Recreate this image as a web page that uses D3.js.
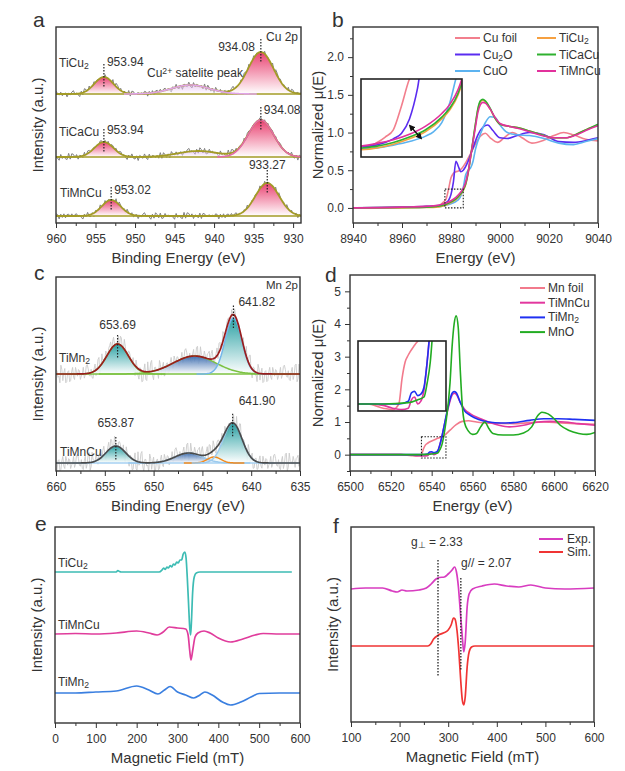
<!DOCTYPE html>
<html>
<head>
<meta charset="utf-8">
<script src="https://cdn.jsdelivr.net/npm/d3@7"></script>
<style>
  body { margin: 0; background: #fff; }
  svg text { font-family: "Liberation Sans", Arial, sans-serif; fill: #333; }
</style>
</head>
<body>
<svg width="625" height="771"></svg>
<script>
// ---------------- data ----------------

// residual shape of the measured XPS traces (read by eye, reused for every trace)
const noiseTrace = [0.2,-0.5,0.7,-0.1,0.4,-0.8,0.3,0.9,-0.3,0.1,-0.6,0.8,-0.2,0.5,-0.4,0.6,-0.9,0.0,0.7,-0.3,
  0.4,-0.7,0.2,-1.0,0.8,-0.1,0.3,-0.5,0.9,-0.6,0.1,0.5,-0.4,0.3,-0.2,0.8,-0.7,0.2,-0.3,0.6,
  -0.8,0.4,-0.1,0.3,-0.9,0.7,0.0,-0.4,0.9,-0.5,0.2,-0.6,0.5,-0.2,1.0,-0.3,0.6,-0.7,0.1,0.4,
  -0.5,0.8,-0.2,0.2,-0.8,0.6,-0.4,0.3,-0.1,0.7,-0.6,0.5,-0.9,0.2,0.4,-0.3,0.8,-0.5,0.1,-0.7,
  0.6,-0.2,0.9,-0.4,0.3,-0.6,0.5,-0.1,0.2,-0.8,0.7,-0.3,0.4,-0.5,0.1,0.6,-0.7,0.3,-0.2,0.8,-0.4];

// (a) Cu 2p XPS fitted peaks: centre (eV), height (a.u.), width sigma (eV)
const cuSamples = ['TiCu_2', 'TiCaCu', 'TiMnCu'];
const cuBase = [129, 66, 7];
const cuPeakCenters = [[953.94, 943.0, 934.08], [953.94, 942.0, 934.08], [953.02, 933.27]];
const cuPeakHeights = [[17, 9, 42], [15, 6, 37], [16, 33]];
const cuPeakWidths  = [[1.2, 2.4, 1.6], [1.2, 2.6, 1.6], [1.2, 1.5]];
const cuTicks = [960, 955, 950, 945, 940, 935, 930];

// (b) Cu K-edge XANES
const cuXasNames = ['Cu foil', 'Cu_2O', 'CuO', 'TiCu_2', 'TiCaCu', 'TiMnCu'];
const cuFoil = [[8940,0],[8960,0.01],[8970,0.02],[8975,0.03],[8976,0.05],[8977,0.08],[8978,0.12],[8979,0.25],[8980,0.4],
  [8981,0.46],[8982,0.48],[8983,0.49],[8984,0.51],[8986,0.6],[8988,0.72],[8990,0.85],[8992,0.95],[8994,0.99],[8996,0.93],
  [8999,0.87],[9002,0.94],[9005,1.0],[9009,0.93],[9013,0.86],[9018,0.9],[9022,0.96],[9026,1.0],[9030,0.97],[9035,0.91],[9040,0.89]];
const cu2O = [[8940,0],[8960,0.01],[8970,0.02],[8975,0.03],[8977,0.05],[8978,0.07],[8979,0.1],[8980,0.18],[8981,0.35],
  [8982,0.62],[8983,0.55],[8984,0.48],[8985,0.5],[8987,0.62],[8989,0.8],[8991,0.97],[8993,1.07],[8995,1.1],[8997,1.03],
  [9000,0.93],[9003,0.92],[9007,0.96],[9012,1.0],[9018,0.97],[9024,0.88],[9030,0.87],[9036,0.9],[9040,0.93]];
const cuO = [[8940,0],[8960,0.005],[8970,0.01],[8976,0.02],[8978,0.035],[8980,0.055],[8982,0.085],[8983,0.11],[8984,0.16],
  [8985,0.27],[8986,0.44],[8987,0.5],[8988,0.53],[8989,0.62],[8990,0.78],[8992,0.98],[8994,1.13],[8996,1.21],[8998,1.2],
  [9000,1.1],[9003,1.0],[9007,0.97],[9012,0.96],[9018,0.92],[9024,0.86],[9030,0.84],[9035,0.88],[9040,0.92]];
const tiCu2Xas = [[8940,0],[8960,0.0],[8970,0.005],[8974,0.01],[8976,0.02],[8978,0.04],[8980,0.07],[8982,0.11],[8984,0.18],
  [8985,0.23],[8986,0.31],[8987,0.46],[8988,0.67],[8989,0.89],[8990,1.11],[8991,1.31],[8992,1.41],[8993,1.43],[8994,1.41],
  [8996,1.31],[8998,1.19],[9000,1.11],[9004,1.08],[9008,1.06],[9012,1.02],[9017,0.97],[9022,0.93],[9027,0.93],[9032,0.99],
  [9036,1.05],[9040,1.1]];
const tiCaCuXas = [[8940,0],[8960,0.005],[8970,0.01],[8974,0.02],[8976,0.03],[8978,0.05],[8980,0.08],[8982,0.12],[8984,0.19],
  [8985,0.24],[8986,0.32],[8987,0.47],[8988,0.68],[8989,0.9],[8990,1.12],[8991,1.32],[8992,1.42],[8993,1.44],[8994,1.42],
  [8996,1.32],[8998,1.19],[9000,1.11],[9004,1.08],[9008,1.06],[9012,1.02],[9017,0.97],[9022,0.93],[9027,0.93],[9032,0.99],
  [9036,1.05],[9040,1.11]];
const tiMnCuXas = [[8940,0],[8960,0.01],[8970,0.02],[8974,0.03],[8976,0.045],[8978,0.065],[8980,0.095],[8982,0.14],[8984,0.21],
  [8985,0.26],[8986,0.34],[8987,0.48],[8988,0.68],[8989,0.88],[8990,1.08],[8991,1.27],[8992,1.37],[8993,1.4],[8994,1.39],
  [8996,1.31],[8998,1.2],[9000,1.12],[9004,1.08],[9008,1.05],[9012,1.01],[9017,0.96],[9022,0.93],[9027,0.93],[9032,0.98],
  [9036,1.04],[9040,1.09]];
const cuXasSeries = [cuFoil, cu2O, cuO, tiCu2Xas, tiCaCuXas, tiMnCuXas];
const cuXasTicks = [8940, 8960, 8980, 9000, 9020, 9040];
const cuXasYTicks = [0, 0.5, 1.0, 1.5, 2.0];

// (c) Mn 2p XPS fitted peaks
const mnSamples = ['TiMn_2', 'TiMnCu'];
const mnBase = [97, 8];
const mnPeakCenters = [[653.69, 645.8, 641.82], [653.87, 646.4, 643.8, 641.90]];
const mnPeakHeights = [[30, 18, 56], [17, 10, 6, 40]];
const mnPeakWidths  = [[1.1, 2.2, 0.85], [1.0, 1.4, 0.7, 0.95]];
const mnTicks = [660, 655, 650, 645, 640, 635];

// (d) Mn K-edge XANES
const mnXasNames = ['Mn foil', 'TiMnCu', 'TiMn_2', 'MnO'];
const mnFoil = [[6500,0],[6525,0],[6530,-0.03],[6533,-0.04],[6535,0.0],[6536,0.18],[6537,0.3],[6538,0.35],[6540,0.42],
  [6543,0.5],[6546,0.58],[6549,0.75],[6552,0.92],[6555,1.02],[6558,1.04],[6562,1.0],[6566,0.97],[6572,0.96],[6580,0.95],
  [6588,0.98],[6595,1.0],[6602,0.98],[6610,0.95],[6620,0.93]];
const tiMnCuMn = [[6500,0],[6525,0],[6530,-0.01],[6533,-0.03],[6536,-0.04],[6538,-0.03],[6539,0.03],[6540,0.05],[6541,0.0],
  [6542,0.02],[6543,0.1],[6544,0.3],[6545,0.55],[6546,0.85],[6548,1.4],[6550,1.82],[6551,1.88],[6552,1.85],[6554,1.6],
  [6556,1.4],[6559,1.25],[6563,1.12],[6568,1.0],[6573,0.9],[6578,0.85],[6585,0.9],[6592,1.0],[6598,1.02],[6605,1.0],
  [6612,0.95],[6620,0.9]];
const tiMn2Mn = [[6500,0],[6530,0],[6535,0.0],[6538,0.02],[6539,0.08],[6540,0.09],[6541,0.06],[6542,0.07],[6543,0.12],
  [6544,0.3],[6545,0.55],[6546,0.85],[6548,1.45],[6550,1.88],[6551,1.93],[6552,1.9],[6554,1.6],[6556,1.35],[6559,1.2],
  [6563,1.08],[6568,1.0],[6574,0.97],[6580,0.98],[6588,1.05],[6595,1.1],[6602,1.1],[6610,1.08],[6620,1.05]];
const mnO = [[6500,0],[6530,0],[6538,0.01],[6541,0.03],[6543,0.05],[6544,0.15],[6545,0.3],[6546,0.6],[6547,1.0],[6549,2.2],
  [6550,3.3],[6551,4.0],[6552,4.25],[6553,3.9],[6554,2.6],[6555,1.5],[6556,1.0],[6558,0.72],[6560,0.62],[6562,0.65],
  [6564,0.85],[6566,1.0],[6568,0.8],[6570,0.65],[6575,0.6],[6580,0.6],[6585,0.66],[6589,0.85],[6592,1.2],[6594,1.3],
  [6597,1.25],[6600,1.1],[6603,0.9],[6607,0.75],[6612,0.65],[6616,0.62],[6620,0.68]];
const mnXasSeries = [mnFoil, tiMnCuMn, tiMn2Mn, mnO];
const mnXasTicks = [6500, 6520, 6540, 6560, 6580, 6600, 6620];
const mnXasYTicks = [0, 1, 2, 3, 4, 5];

// (e) EPR spectra (mT, intensity a.u.)
const eprSamples = ['TiCu_2', 'TiMnCu', 'TiMn_2'];
const eprTiCu2 = [[0,151],[150,151],[154,152.5],[158,151.5],[162,151],[255,151],[262,153],[266,155],[270,153.5],[274,156],
  [278,155],[282,157.5],[286,156],[290,159],[294,158],[298,161],[302,160],[306,163],[310,163],[314,169],[318,171],[321,165],
  [324,145],[327,120],[330,95],[332,88],[334,100],[337,130],[341,146],[346,150],[355,151],[580,151]];
const eprTiMnCu = [[0,89],[50,89.5],[100,89],[150,90],[200,92],[230,90],[250,88],[265,91],[280,96],[300,95],[320,94],[326,88],
  [330,72],[333,63],[337,72],[343,86],[350,90],[365,92],[380,90],[400,85],[430,81],[460,84],[490,88],[510,89.5],[550,89],[600,89]];
const eprTiMn2 = [[0,30],[50,30],[100,31],[150,32],[200,37],[230,33],[252,29],[268,33],[282,36.5],[300,31],[320,28],[340,25],
  [355,28],[367,31],[385,28],[410,21],[430,18],[455,21],[480,26],[500,29.5],[550,30],[600,30]];
const eprSeries = [eprTiCu2, eprTiMnCu, eprTiMn2];
const eprTicks = [0, 100, 200, 300, 400, 500, 600];

// (f) EPR experiment vs simulation
const fitNames = ['Exp.', 'Sim.'];
const eprExp = [[100,133],[130,134],[165,134],[185,131],[195,130],[205,132],[215,131],[240,132],[255,134],[265,138],[275,143],
  [282,144.5],[292,145],[300,148],[308,152],[313,155],[317,150],[321,135],[325,110],[329,85],[332,70],[335,80],[339,115],
  [343,128],[350,133],[370,136],[395,138],[420,136],[445,135],[470,137],[500,134],[540,133],[600,134]];
const eprSim = [[100,76],[258,76],[264,78],[270,83],[280,87],[290,89],[300,92],[306,97],[311,104],[314,103],[318,92],[322,70],
  [326,40],[329,22],[332,17],[335,25],[339,55],[343,70],[348,75],[355,76],[600,76]];
const fitSeries = [eprExp, eprSim];
const gValues = [279, 326];
const fitTicks = [100, 200, 300, 400, 500, 600];

// ---------------- drawing ----------------
const svg = d3.select('svg');
const defs = svg.append('defs');

[['gPink', '#e8386a'], ['gLav', '#d9a0e6'], ['gTeal', '#14979a'], ['gBlue', '#2f63aa']].forEach(([id, c]) => {
  const lg = defs.append('linearGradient').attr('id', id)
    .attr('x1', 0).attr('y1', 0).attr('x2', 0).attr('y2', 1);
  lg.append('stop').attr('offset', '0%').attr('stop-color', c);
  lg.append('stop').attr('offset', '100%').attr('stop-color', '#fff');
});

const rich = (sel, s) => {
  s.split(/([_^]\{[^}]*\}|[_^].)/).filter(p => p).forEach(p => {
    if (p[0] === '_' || p[0] === '^') {
      sel.append('tspan')
        .attr('baseline-shift', p[0] === '_' ? '-22%' : '38%')
        .attr('font-size', '72%')
        .text(p.slice(1).replace(/[{}]/g, ''));
    } else {
      sel.append('tspan').text(p);
    }
  });
  return sel;
};

const between = t => t.slice(1).map((v, i) => (v + t[i]) / 2);

let clipN = 0;
function makePanel(o) {
  const g = svg.append('g').attr('transform', `translate(${o.x0},${o.y0})`);
  const x = d3.scaleLinear().domain(o.xDomain).range([0, o.w]);
  const y = d3.scaleLinear().domain(o.yDomain).range([o.h, 0]);
  const id = 'clip' + (clipN++);
  defs.append('clipPath').attr('id', id).append('rect').attr('width', o.w).attr('height', o.h);

  g.append('g').attr('class', 'ax').attr('transform', `translate(0,${o.h})`)
    .call(d3.axisBottom(x).tickValues(between(o.xTicks)).tickSize(3).tickFormat(''));
  g.append('g').attr('class', 'ax').attr('transform', `translate(0,${o.h})`)
    .call(d3.axisBottom(x).tickValues(o.xTicks).tickSize(5).tickPadding(6).tickFormat(d3.format('d')));
  if (o.yTicks) {
    g.append('g').attr('class', 'ax')
      .call(d3.axisLeft(y).tickValues(o.yMinor).tickSize(3).tickFormat(''));
    g.append('g').attr('class', 'ax')
      .call(d3.axisLeft(y).tickValues(o.yTicks).tickSize(5).tickPadding(4).tickFormat(d3.format(o.yFormat)));
  }
  g.selectAll('.ax .domain').remove();
  g.selectAll('.ax line').attr('stroke', '#333').attr('stroke-width', 1);
  g.selectAll('.ax text').attr('font-size', 12).attr('fill', '#222');

  const plot = g.append('g').attr('clip-path', `url(#${id})`);

  g.append('rect').attr('width', o.w).attr('height', o.h)
    .attr('fill', 'none').attr('stroke', '#333').attr('stroke-width', 1.4);

  g.append('text').attr('x', o.letter[1]).attr('y', o.letter[2])
    .attr('font-size', 21).attr('fill', '#111').text(o.letter[0]);
  g.append('text').attr('x', o.w / 2).attr('y', o.h + 40)
    .attr('text-anchor', 'middle').attr('font-size', 15).text(o.xTitle);
  rich(g.append('text').attr('transform', 'rotate(-90)')
    .attr('x', -o.h / 2).attr('y', o.yTitleX)
    .attr('text-anchor', 'middle').attr('font-size', 15), o.yTitle);
  return { g, plot, x, y };
}

const gauss = (e, c, h, s) => h * Math.exp(-((e - c) ** 2) / (2 * s * s));

// ---- panel a ----
(() => {
  const p = makePanel({ x0: 56, y0: 27, w: 245, h: 196, xDomain: [960, 929], yDomain: [0, 196],
    xTicks: cuTicks, letter: ['a', -23, 0], xTitle: 'Binding Energy (eV)',
    yTitle: 'Intensity (a.u.)', yTitleX: -13 });
  const { plot, x, y } = p;
  const fills = [['gPink', 'gLav', 'gPink'], ['gPink', 'gLav', 'gPink'], ['gPink', 'gPink']];
  const topStroke = [[null, '#e0a4e8', null], [null, null, '#e46aa8'], [null, null]];
  const labelPos = [[[3, -11, 'start'], null, [-6, -1, 'end']],
                    [[3, -8, 'start'], null, [3, -6, 'start']],
                    [[3, -6, 'start'], [0, -14, 'middle']]];
  const olive = '#a39b26';
  const grid = d3.range(929, 960.001, 0.1);

  cuSamples.forEach((name, i) => {
    const base = cuBase[i];
    const comps = cuPeakCenters[i].map((c, j) => ({ c, h: cuPeakHeights[i][j], s: cuPeakWidths[i][j] }));
    const env = e => base + d3.sum(comps, q => gauss(e, q.c, q.h, q.s));
    const raw = d3.range(929, 960.001, 0.2)
      .map((e, k) => [e, env(e) + 3.6 * noiseTrace[(k * 3 + i * 17) % noiseTrace.length]]);

    plot.append('path').datum(raw)
      .attr('d', d3.line().x(d => x(d[0])).y(d => y(d[1])))
      .attr('fill', 'none').attr('stroke', '#808080').attr('stroke-width', 1);

    comps.forEach((q, j) => {
      const pts = grid.filter(e => Math.abs(e - q.c) < 4 * q.s);
      plot.append('path').datum(pts)
        .attr('d', d3.area().x(e => x(e)).y0(y(base)).y1(e => y(base + gauss(e, q.c, q.h, q.s))))
        .attr('fill', `url(#${fills[i][j]})`).attr('opacity', fills[i][j] === 'gLav' ? 0.5 : 0.95);
    });
    plot.append('line').attr('x1', 0).attr('x2', x(929)).attr('y1', y(base)).attr('y2', y(base))
      .attr('stroke', olive).attr('stroke-width', 1.6);
    plot.append('path').datum(grid)
      .attr('d', d3.line().x(e => x(e)).y(e => y(env(e))))
      .attr('fill', 'none').attr('stroke', olive).attr('stroke-width', 1.8);
    comps.forEach((q, j) => {
      if (!topStroke[i][j]) return;
      const pts = grid.filter(e => Math.abs(e - q.c) < 3.5 * q.s);
      plot.append('path').datum(pts)
        .attr('d', d3.line().x(e => x(e)).y(e => y(base + gauss(e, q.c, q.h, q.s))))
        .attr('fill', 'none').attr('stroke', topStroke[i][j]).attr('stroke-width', 1.6);
    });
    comps.forEach((q, j) => {
      const lp = labelPos[i][j];
      if (!lp) return;
      const top = y(base + q.h);
      p.g.append('line').attr('x1', x(q.c)).attr('x2', x(q.c)).attr('y1', top - 13).attr('y2', top + 11)
        .attr('stroke', '#222').attr('stroke-width', 1.2).attr('stroke-dasharray', '1.5,1.5');
      p.g.append('text').attr('x', x(q.c) + lp[0]).attr('y', top + lp[1]).attr('text-anchor', lp[2])
        .attr('font-size', 12).text(d3.format('.2f')(q.c));
    });
  });
  [[3, 40], [3, 109], [4, 170]].forEach((pos, i) =>
    rich(p.g.append('text').attr('x', pos[0]).attr('y', pos[1]).attr('font-size', 12), cuSamples[i]));
  p.g.append('text').attr('x', 210).attr('y', 14).attr('font-size', 12).text('Cu 2p');
  rich(p.g.append('text').attr('x', 91).attr('y', 50).attr('font-size', 12), 'Cu^{2+} satelite peak');
})();

// ---- XANES helper ----
const xasColorsCu = ['#f27f8d', '#5a2cf0', '#5cb3f0', '#f6a040', '#2fb12f', '#e2319c'];
const xasColorsMn = ['#f27a8c', '#e2379e', '#1f30f2', '#22ac22'];

function drawInset(series, colors, box, xd, yd) {
  const gi = svg.append('g').attr('transform', `translate(${box[0]},${box[1]})`);
  const xi = d3.scaleLinear().domain(xd).range([0, box[2]]);
  const yi = d3.scaleLinear().domain(yd).range([box[3], 0]);
  const id = 'clip' + (clipN++);
  defs.append('clipPath').attr('id', id).append('rect').attr('width', box[2]).attr('height', box[3]);
  gi.append('rect').attr('width', box[2]).attr('height', box[3]).attr('fill', '#fff');
  const pl = gi.append('g').attr('clip-path', `url(#${id})`);
  series.forEach((s, i) => pl.append('path').datum(s)
    .attr('d', d3.line().curve(d3.curveMonotoneX).x(d => xi(d[0])).y(d => yi(d[1])))
    .attr('fill', 'none').attr('stroke', colors[i]).attr('stroke-width', 1.6));
  gi.append('rect').attr('width', box[2]).attr('height', box[3])
    .attr('fill', 'none').attr('stroke', '#222').attr('stroke-width', 1.6);
  return gi;
}

function dottedBox(p, x0, x1, y0, y1) {
  p.g.append('rect').attr('x', p.x(x0)).attr('y', p.y(y1))
    .attr('width', p.x(x1) - p.x(x0)).attr('height', p.y(y0) - p.y(y1))
    .attr('fill', 'none').attr('stroke', '#222').attr('stroke-width', 1.1).attr('stroke-dasharray', '1.5,1.5');
}

// ---- panel b ----
(() => {
  const p = makePanel({ x0: 353, y0: 27, w: 245, h: 196, xDomain: [8940, 9040], yDomain: [-0.2, 2.4],
    xTicks: cuXasTicks, yTicks: cuXasYTicks, yMinor: [0.25, 0.75, 1.25, 1.75, 2.25], yFormat: '.1f',
    letter: ['b', -21, 0], xTitle: 'Energy (eV)', yTitle: 'Normalized \u03bc(E)', yTitleX: -30 });
  cuXasSeries.forEach((s, i) => p.plot.append('path').datum(s)
    .attr('d', d3.line().curve(d3.curveMonotoneX).x(d => p.x(d[0])).y(d => p.y(d[1])))
    .attr('fill', 'none').attr('stroke', xasColorsCu[i]).attr('stroke-width', 1.6));
  dottedBox(p, 8977.5, 8985, 0, 0.25);
  const gi = drawInset(cuXasSeries, xasColorsCu, [361, 79, 101, 78], [8974, 8986.5], [-0.03, 0.4]);
  defs.append('marker').attr('id', 'arr').attr('viewBox', '0 0 10 10').attr('refX', 5).attr('refY', 5)
    .attr('markerWidth', 5).attr('markerHeight', 5).attr('orient', 'auto-start-reverse')
    .append('path').attr('d', 'M0,0L10,5L0,10z').attr('fill', '#111');
  gi.append('line').attr('x1', 59).attr('y1', 58).attr('x2', 50).attr('y2', 48)
    .attr('stroke', '#111').attr('stroke-width', 1.3)
    .attr('marker-start', 'url(#arr)').attr('marker-end', 'url(#arr)');
  const leg = p.g.append('g');
  cuXasNames.forEach((n, i) => {
    const col = Math.floor(i / 3), row = i % 3;
    const lx = col ? 184 : 102, len = col ? 19 : 25, ly = 11 + row * 16.5;
    leg.append('line').attr('x1', lx).attr('x2', lx + len).attr('y1', ly).attr('y2', ly)
      .attr('stroke', xasColorsCu[i]).attr('stroke-width', 2);
    rich(leg.append('text').attr('x', lx + len + 3).attr('y', ly + 4).attr('font-size', 12), n);
  });
})();

// ---- panel c ----
(() => {
  const p = makePanel({ x0: 56, y0: 277, w: 244, h: 194, xDomain: [660, 635], yDomain: [0, 194],
    xTicks: mnTicks, letter: ['c', -22, 3], xTitle: 'Binding Energy (eV)',
    yTitle: 'Intensity (a.u.)', yTitleX: -13 });
  const { plot, x, y } = p;
  const fills = [['gTeal', 'gBlue', 'gTeal'], ['gTeal', 'gBlue', null, 'gTeal']];
  const strokes = [['#7cc242', '#7cc242', '#74b6ea'], ['#9ccaee', '#9ccaee', '#f28a1c', '#9ccaee']];
  const envColor = ['#9a1d1d', '#4a4a4a'];
  const baseColor = ['#7cc242', '#a6d0f2'];
  const labelPos = [[[0, -15, 'middle'], null, [5, -8, 'start']],
                    [[0, -19, 'middle'], null, null, [6, -18, 'start']]];
  const grid = d3.range(635, 660.001, 0.1);

  mnSamples.forEach((name, i) => {
    const base = mnBase[i];
    const comps = mnPeakCenters[i].map((c, j) => ({ c, h: mnPeakHeights[i][j], s: mnPeakWidths[i][j] }));
    const env = e => base + d3.sum(comps, q => gauss(e, q.c, q.h, q.s));
    const raw = d3.range(635, 660.001, 0.1)
      .map((e, k) => [e, env(e) + 11 * noiseTrace[(k * 7 + i * 31) % noiseTrace.length]]);
    plot.append('path').datum(raw)
      .attr('d', d3.line().x(d => x(d[0])).y(d => y(d[1])))
      .attr('fill', 'none').attr('stroke', '#cbcbcb').attr('stroke-width', 0.9);

    comps.forEach((q, j) => {
      if (!fills[i][j]) return;
      const pts = grid.filter(e => Math.abs(e - q.c) < 4 * q.s);
      plot.append('path').datum(pts)
        .attr('d', d3.area().x(e => x(e)).y0(y(base)).y1(e => y(base + gauss(e, q.c, q.h, q.s))))
        .attr('fill', `url(#${fills[i][j]})`).attr('opacity', 0.9);
    });
    plot.append('line').attr('x1', 0).attr('x2', x(635)).attr('y1', y(base)).attr('y2', y(base))
      .attr('stroke', baseColor[i]).attr('stroke-width', 1.6);
    comps.forEach((q, j) => {
      const pts = grid.filter(e => Math.abs(e - q.c) < 4.5 * q.s);
      plot.append('path').datum(pts)
        .attr('d', d3.line().x(e => x(e)).y(e => y(base + gauss(e, q.c, q.h, q.s))))
        .attr('fill', 'none').attr('stroke', strokes[i][j]).attr('stroke-width', 1.5);
    });
    plot.append('path').datum(grid)
      .attr('d', d3.line().x(e => x(e)).y(e => y(env(e))))
      .attr('fill', 'none').attr('stroke', envColor[i]).attr('stroke-width', 1.7);
    comps.forEach((q, j) => {
      const lp = labelPos[i][j];
      if (!lp) return;
      const top = y(env(q.c));
      p.g.append('line').attr('x1', x(q.c)).attr('x2', x(q.c)).attr('y1', top - 9).attr('y2', top + 14)
        .attr('stroke', '#222').attr('stroke-width', 1.2).attr('stroke-dasharray', '1.5,1.5');
      p.g.append('text').attr('x', x(q.c) + lp[0]).attr('y', top + lp[1]).attr('text-anchor', lp[2])
        .attr('font-size', 12).text(d3.format('.2f')(q.c));
    });
  });
  [[3, 85], [4, 179]].forEach((pos, i) =>
    rich(p.g.append('text').attr('x', pos[0]).attr('y', pos[1]).attr('font-size', 12), mnSamples[i]));
  p.g.append('text').attr('x', 242).attr('y', 12).attr('text-anchor', 'end').attr('font-size', 11.5).text('Mn 2p');
})();

// ---- panel d ----
(() => {
  const p = makePanel({ x0: 350, y0: 275, w: 245, h: 196, xDomain: [6500, 6620], yDomain: [-0.5, 5.5],
    xTicks: mnXasTicks, yTicks: mnXasYTicks, yMinor: [-0.5, 0.5, 1.5, 2.5, 3.5, 4.5], yFormat: 'd',
    letter: ['d', -25, 7], xTitle: 'Energy (eV)', yTitle: 'Normalized \u03bc(E)', yTitleX: -27 });
  mnXasSeries.forEach((s, i) => p.plot.append('path').datum(s)
    .attr('d', d3.line().curve(d3.curveMonotoneX).x(d => p.x(d[0])).y(d => p.y(d[1])))
    .attr('fill', 'none').attr('stroke', xasColorsMn[i]).attr('stroke-width', 1.6));
  dottedBox(p, 6535, 6547, -0.1, 0.55);
  drawInset(mnXasSeries, xasColorsMn, [358, 341, 88, 70], [6522, 6550], [-0.05, 0.45]);
  mnXasNames.forEach((n, i) => {
    const ly = 13 + i * 14.7;
    p.g.append('line').attr('x1', 170).attr('x2', 195).attr('y1', ly).attr('y2', ly)
      .attr('stroke', xasColorsMn[i]).attr('stroke-width', 2);
    rich(p.g.append('text').attr('x', 198).attr('y', ly + 4).attr('font-size', 12), n);
  });
})();

// ---- panel e ----
(() => {
  const p = makePanel({ x0: 55, y0: 527, w: 245, h: 196, xDomain: [0, 600], yDomain: [0, 196],
    xTicks: eprTicks, letter: ['e', -20, 4], xTitle: 'Magnetic Field (mT)',
    yTitle: 'Intensity (a.u.)', yTitleX: -13 });
  const colors = ['#3dbcb4', '#e03c9c', '#3a7fe0'];
  eprSeries.forEach((s, i) => p.plot.append('path').datum(s)
    .attr('d', d3.line().curve(d3.curveMonotoneX).x(d => p.x(d[0])).y(d => p.y(d[1])))
    .attr('fill', 'none').attr('stroke', colors[i]).attr('stroke-width', 1.7));
  [[3, 40], [3, 102], [3, 159]].forEach((pos, i) =>
    rich(p.g.append('text').attr('x', pos[0]).attr('y', pos[1]).attr('font-size', 12), eprSamples[i]));
})();

// ---- panel f ----
(() => {
  const p = makePanel({ x0: 351, y0: 527, w: 243, h: 195, xDomain: [100, 600], yDomain: [0, 195],
    xTicks: fitTicks, letter: ['f', -18, 6], xTitle: 'Magnetic Field (mT)',
    yTitle: 'Intensity (a.u.)', yTitleX: -13 });
  const colors = ['#d83cc0', '#f03434'];
  fitSeries.forEach((s, i) => p.plot.append('path').datum(s)
    .attr('d', d3.line().curve(d3.curveMonotoneX).x(d => p.x(d[0])).y(d => p.y(d[1])))
    .attr('fill', 'none').attr('stroke', colors[i]).attr('stroke-width', 1.7));
  [[162, 45], [144, 51]].forEach((yy, i) =>
    p.g.append('line').attr('x1', p.x(gValues[i])).attr('x2', p.x(gValues[i]))
      .attr('y1', p.y(yy[0])).attr('y2', p.y(yy[1]))
      .attr('stroke', '#222').attr('stroke-width', 1.3).attr('stroke-dasharray', '1.5,1.5'));
  rich(p.g.append('text').attr('x', 60).attr('y', 19).attr('font-size', 12), 'g_\u22a5 = 2.33');
  p.g.append('text').attr('x', 110).attr('y', 40).attr('font-size', 12).text('g// = 2.07');
  fitNames.forEach((n, i) => {
    const ly = 12 + i * 13;
    p.g.append('line').attr('x1', 188).attr('x2', 212).attr('y1', ly).attr('y2', ly)
      .attr('stroke', colors[i]).attr('stroke-width', 2);
    p.g.append('text').attr('x', 216).attr('y', ly + 4).attr('font-size', 12).text(n);
  });
})();
</script>
</body>
</html>
